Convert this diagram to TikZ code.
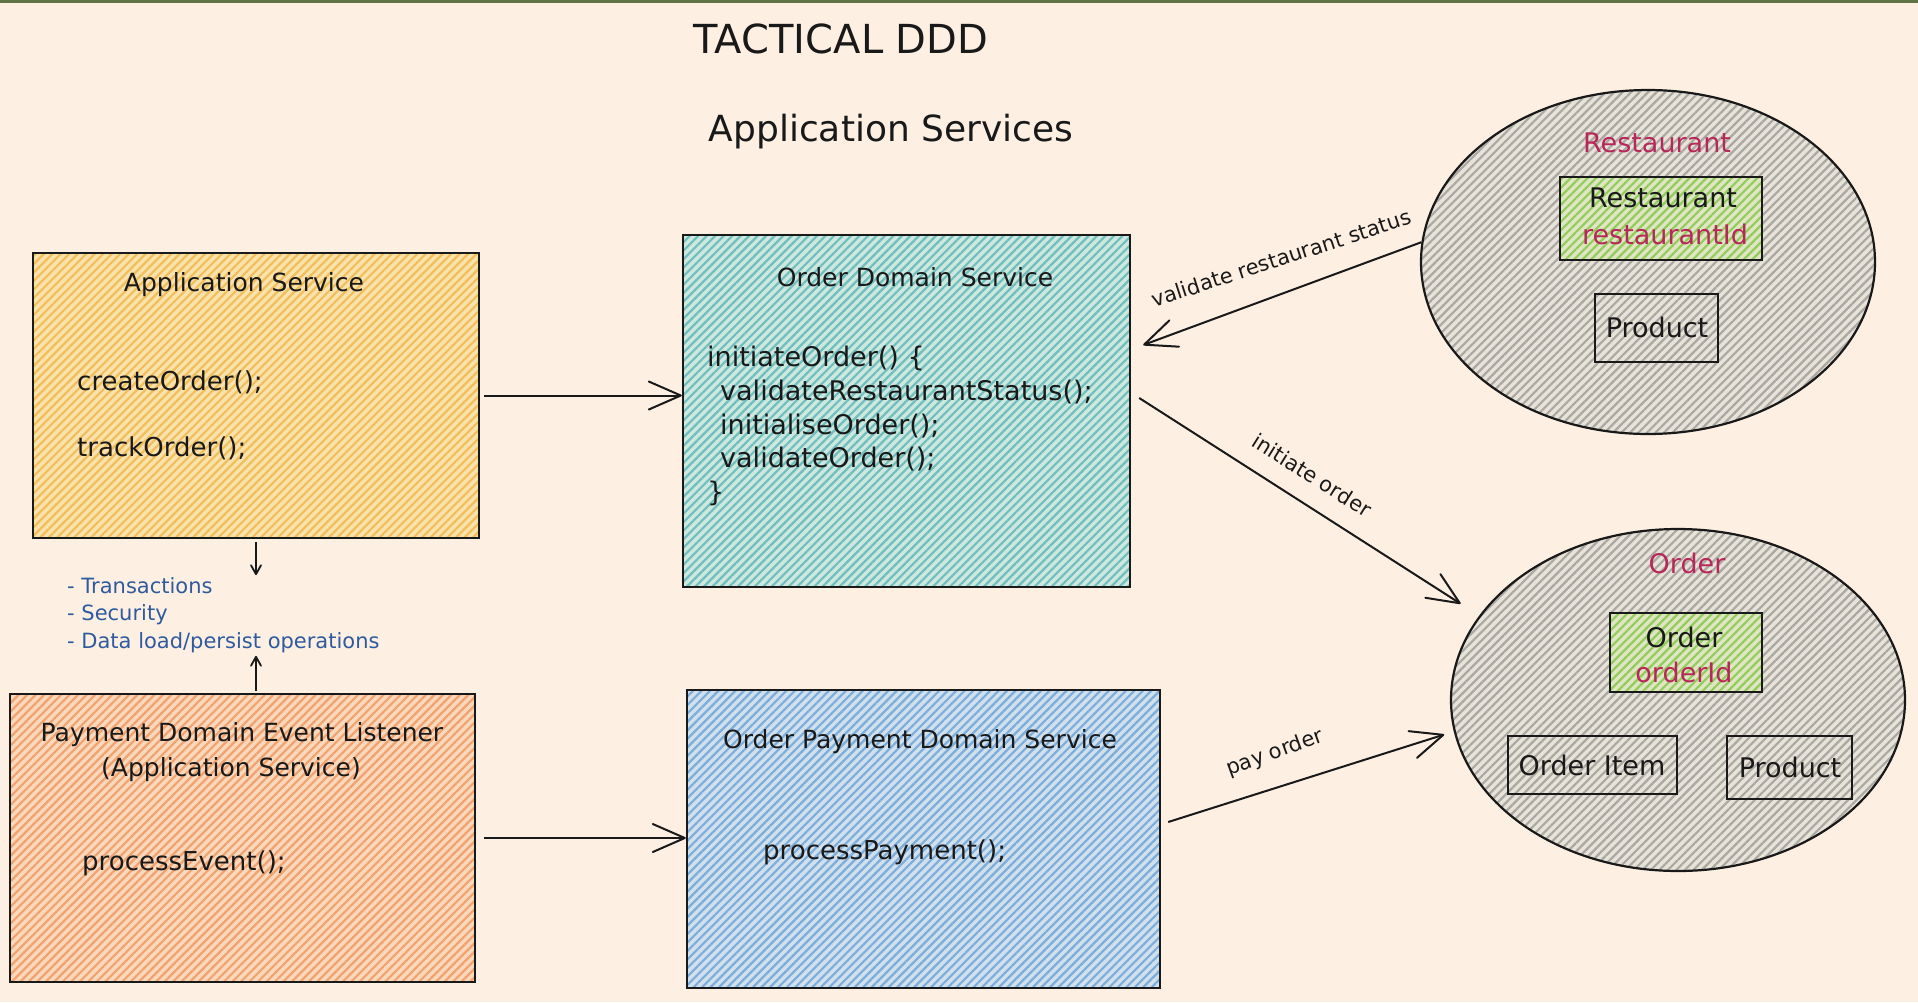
\documentclass[tikz,border=0pt]{standalone}
\usepackage{fontspec}
\setmainfont{DejaVu Sans}
\usetikzlibrary{arrows.meta,patterns.meta,shapes.geometric}

\definecolor{bg}{RGB}{253,240,227}
\definecolor{topbar}{RGB}{95,115,70}
\definecolor{ink}{RGB}{25,25,25}
\definecolor{magentatxt}{RGB}{184,39,90}
\definecolor{notesblue}{RGB}{47,90,158}
\definecolor{ylwbase}{RGB}{250,226,172}
\definecolor{ylwline}{RGB}{241,190,92}
\definecolor{orgbase}{RGB}{250,216,188}
\definecolor{orgline}{RGB}{240,163,112}
\definecolor{tealbase}{RGB}{205,232,222}
\definecolor{tealline}{RGB}{112,190,190}
\definecolor{bluebase}{RGB}{208,224,236}
\definecolor{blueline}{RGB}{125,173,218}
\definecolor{graybase}{RGB}{232,227,217}
\definecolor{grayline}{RGB}{170,168,162}
\definecolor{grnbase}{RGB}{222,230,196}
\definecolor{grnline}{RGB}{148,204,92}

\tikzset{
  hatch/.style 2 args={preaction={fill=#1},
    pattern={Lines[angle=45,distance=6pt,line width=2.2pt]}, pattern color=#2},
  box/.style={draw=ink, line width=2.4pt, inner sep=0pt, rectangle},
  oval/.style={draw=ink, line width=2.2pt, inner sep=0pt, ellipse},
  inbox/.style={draw=ink, line width=2.2pt, inner sep=0pt, rectangle},
  headtxt/.style={font=\fontsize{40}{44}\selectfont, text=ink, inner sep=0pt},
  subtxt/.style={font=\fontsize{36}{40}\selectfont, text=ink, inner sep=0pt},
  ttl/.style={font=\fontsize{25}{30}\selectfont, text=ink, inner sep=0pt},
  code/.style={font=\fontsize{26}{30}\selectfont, text=ink, inner sep=0pt, anchor=west},
  agg/.style={font=\fontsize{27}{32}\selectfont, inner sep=0pt},
  lbl/.style={font=\fontsize{21}{24}\selectfont, text=ink, inner sep=0pt},
  arr/.style={draw=ink, line width=2pt, -{Straight Barb[length=32pt,width=28pt,round]}},
  sarr/.style={draw=ink, line width=1.8pt, -{Straight Barb[length=9pt,width=10pt,round]}}
}

\begin{document}
\begin{tikzpicture}[x=1pt,y=-1pt]
\fill[bg] (0,0) rectangle (1918,1002);
\useasboundingbox (0,0) rectangle (1918,1002);
\fill[topbar] (0,0) rectangle (1918,3);

% titles
\node[headtxt] (title) at (841,39) {TACTICAL DDD};
\node[subtxt] (subtitle) at (891,132) {Application Services};

% main boxes
\node[box, hatch={ylwbase}{ylwline}, minimum width=446pt, minimum height=285pt] (appsvc) at (256,395.5) {};
\node[box, hatch={orgbase}{orgline}, minimum width=465pt, minimum height=288pt] (payl) at (242.5,838) {};
\node[box, hatch={tealbase}{tealline}, minimum width=447pt, minimum height=352pt] (ods) at (906.5,411) {};
\node[box, hatch={bluebase}{blueline}, minimum width=473pt, minimum height=298pt] (opds) at (923.5,839) {};

% aggregates
\node[oval, hatch={graybase}{grayline}, minimum width=454pt, minimum height=344pt] (rest) at (1648,262) {};
\node[oval, hatch={graybase}{grayline}, minimum width=454pt, minimum height=342pt] (order) at (1678,700) {};
\node[inbox, hatch={grnbase}{grnline}, minimum width=202pt, minimum height=83pt] (restroot) at (1661,218.5) {};
\node[inbox, minimum width=123pt, minimum height=68pt] (rprod) at (1656.5,328) {};
\node[inbox, hatch={grnbase}{grnline}, minimum width=152pt, minimum height=79pt] (orderroot) at (1686,652.5) {};
\node[inbox, minimum width=169pt, minimum height=58pt] (oitem) at (1592.5,765) {};
\node[inbox, minimum width=125pt, minimum height=63pt] (oprod) at (1789.5,767.5) {};

% texts in Application Service
\node[ttl] (appsvct) at (244,285) {Application Service};
\node[code] (createo) at (77,382) {createOrder();};
\node[code] (tracko) at (77,448) {trackOrder();};

% notes
\node[font=\fontsize{21}{27.5}\selectfont, text=notesblue, inner sep=0pt, align=left, anchor=west] (notes) at (67,615)
  {- Transactions\\- Security\\- Data load/persist operations};

% Payment listener
\node[ttl] (paylt1) at (242,735) {Payment Domain Event Listener};
\node[ttl] (paylt2) at (231,770) {(Application Service)};
\node[code] (proce) at (82,863) {processEvent();};

% Order Domain Service
\node[ttl] (odst) at (915,277) {Order Domain Service};
\node[code, font=\fontsize{27}{33.75}\selectfont, align=left] (codeblk) at (707,426)
  {initiateOrder() \{\\
   \hspace*{13pt}validateRestaurantStatus();\\
   \hspace*{13pt}initialiseOrder();\\
   \hspace*{13pt}validateOrder();\\
   \}};

% Order Payment Domain Service
\node[ttl] (opdst) at (920,742) {Order Payment Domain Service};
\node[code] (procp) at (763,852) {processPayment();};

% aggregate texts
\node[agg, text=magentatxt] (restlbl) at (1657,143) {Restaurant};
\node[agg, text=ink] (restroott) at (1663,198) {Restaurant};
\node[agg, text=magentatxt] (restid) at (1665,234) {restaurantId};
\node[agg, text=ink] (rprodt) at (1657,327) {Product};
\node[agg, text=magentatxt] (orderlbl) at (1687,563) {Order};
\node[agg, text=ink] (orderroott) at (1684,637) {Order};
\node[agg, text=magentatxt] (orderid) at (1684,672) {orderId};
\node[agg, text=ink] (oitemt) at (1592,765) {Order Item};
\node[agg, text=ink] (oprodt) at (1790,767) {Product};

% connectors
\draw[arr, shorten <=4pt] (appsvc.east) -- (appsvc.east -| ods.west);
\draw[arr, shorten <=8pt] (payl.east) -- (payl.east -| opds.west);
\draw[sarr, shorten <=3pt, shorten >=2pt] (appsvc.south) -- (appsvc.south |- notes.north);
\draw[sarr, shorten <=2pt, shorten >=3pt] (payl.north -| appsvc.south) -- (notes.south -| appsvc.south);
\draw[arr] (rest.175) -- ([xshift=12pt,yshift=66pt]ods.east);
\draw[arr, shorten >=22pt] ([xshift=8pt,yshift=13pt]ods.east) -- (order.157);
\draw[arr, shorten >=10pt] ([xshift=7pt,yshift=17pt]opds.east) -- (order.188);

% connector labels
\node[lbl, rotate=18] (lvrs) at (1281,258) {validate restaurant status};
\node[lbl, rotate=-32] (linit) at (1312,475) {initiate order};
\node[lbl, rotate=20] (lpay) at (1275,753) {pay order};
\end{tikzpicture}
\end{document}
